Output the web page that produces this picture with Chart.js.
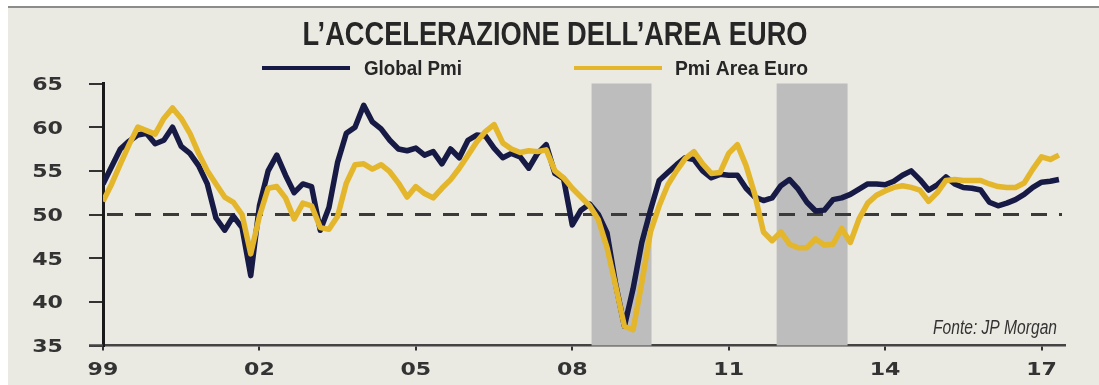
<!DOCTYPE html>
<html lang="it">

<head>
    <meta charset="UTF-8">
    <title>L'accelerazione dell'area euro</title>
    <script src="https://cdn.jsdelivr.net/npm/chart.js"></script>
    <style>
        body { margin: 0; background: #fff; }
    </style>
</head>

<body>
    <div style="width: 1099px; height: 385px;">
        <canvas id="myChart" width="1099" height="385"></canvas>
    </div>

    <script>
        // dati: un punto ogni 2 mesi, da gen 1999
        const firstYear = 1999;
        const monthsPerPoint = 2;

        const globalPmi = [
            53.5, 55.5, 57.5, 58.4, 59.1, 59.3, 58.1, 58.5, 60.0, 57.8,
            57.0, 55.6, 53.5, 49.6, 48.2, 49.8, 48.5, 43.0, 51.0, 55.0,
            56.8, 54.5, 52.5, 53.5, 53.2, 48.2, 50.8, 56.0, 59.3, 60.0,
            62.5, 60.6, 59.8, 58.5, 57.5, 57.3, 57.6, 56.8, 57.2, 55.8,
            57.5, 56.5, 58.5, 59.1, 59.0, 57.6, 56.5, 57.0, 56.6, 55.3,
            57.0, 58.0, 54.7, 54.1, 48.8, 50.5, 51.2, 50.0, 47.9, 42.0,
            37.2, 41.5, 46.8, 50.5, 53.9, 54.8, 55.7, 56.5, 56.3, 55.0,
            54.2, 54.6, 54.5, 54.5, 53.0, 52.0, 51.6, 51.9, 53.3, 54.0,
            52.9, 51.4, 50.4, 50.5, 51.7, 51.9, 52.3, 52.9, 53.5, 53.5,
            53.4, 53.8, 54.5, 55.0, 54.0, 52.8, 53.4, 54.3, 53.5, 53.1,
            53.0, 52.8, 51.4, 51.0, 51.3, 51.7, 52.3, 53.1, 53.7, 53.8,
            54.0
        ];

        const pmiAreaEuro = [
            51.5, 53.5, 55.8, 58.0, 60.0, 59.6, 59.2, 61.0, 62.2, 61.0,
            59.3, 57.0, 55.0, 53.5, 52.0, 51.4, 50.0, 45.5, 49.8, 53.0,
            53.2, 51.9, 49.5, 51.3, 51.0, 48.5, 48.3, 49.8, 53.6, 55.7,
            55.8, 55.2, 55.7, 54.9, 53.6, 52.0, 53.2, 52.4, 51.9, 53.0,
            54.0, 55.3, 56.8, 58.3, 59.5, 60.3, 58.2, 57.5, 57.1, 57.3,
            57.2, 57.4, 55.0, 54.2, 53.0, 52.0, 51.0, 49.4, 46.2, 41.8,
            37.2, 36.8, 42.2, 48.0, 51.0, 53.4, 55.0, 56.4, 57.2, 55.8,
            54.7, 54.8, 57.0, 58.0, 55.6, 52.3, 48.0, 47.0, 48.0, 46.6,
            46.2, 46.2, 47.2, 46.5, 46.6, 48.4, 46.8, 49.5, 51.3, 52.2,
            52.7, 53.1, 53.3, 53.1, 52.8, 51.5, 52.5, 53.9, 54.0, 53.9,
            53.9, 53.9, 53.5, 53.2, 53.1, 53.1, 53.6, 55.2, 56.6, 56.3,
            56.8
        ];

        const xTickYears = [1999, 2002, 2005, 2008, 2011, 2014, 2017];
        const xTickLabels = ['99', '02', '05', '08', '11', '14', '17'];
        const yTickValues = [35, 40, 45, 50, 55, 60, 65];
        const shadedPeriods = [[2008.37, 2009.52], [2011.92, 2013.28]];

        function toPoints(values) {
            return values.map((v, i) => ({ x: firstYear + i * monthsPerPoint / 12, y: v }));
        }

        // testo con schiacciamento orizzontale (font condensato / esteso)
        function drawText(ctx, text, x, y, font, color, align, sx) {
            ctx.save();
            ctx.font = font;
            ctx.fillStyle = color;
            ctx.textAlign = align;
            ctx.textBaseline = 'alphabetic';
            ctx.translate(x, y);
            ctx.scale(sx, 1);
            ctx.fillText(text, 0, 0);
            ctx.restore();
        }
        function fitScale(ctx, text, font, width) {
            ctx.save();
            ctx.font = font;
            const w = ctx.measureText(text).width;
            ctx.restore();
            return width / w;
        }

        const decorPlugin = {
            id: 'decor',
            beforeDraw(chart) {
                const ctx = chart.ctx;
                ctx.save();
                ctx.fillStyle = '#ffffff';
                ctx.fillRect(0, 0, chart.width, chart.height);
                ctx.fillStyle = '#eae9e2';
                ctx.fillRect(8, 8, chart.width - 8, chart.height - 8);
                ctx.strokeStyle = '#8c8c8c';
                ctx.lineWidth = 2;
                ctx.beginPath();
                ctx.moveTo(8, 7);
                ctx.lineTo(chart.width, 7);
                ctx.stroke();
                ctx.restore();
            },
            beforeDatasetsDraw(chart) {
                const ctx = chart.ctx;
                const x = chart.scales.x, y = chart.scales.y;
                const area = chart.chartArea;
                ctx.save();
                ctx.fillStyle = '#bdbdbd';
                shadedPeriods.forEach(p => {
                    const x0 = x.getPixelForValue(p[0]);
                    const x1 = x.getPixelForValue(p[1]);
                    ctx.fillRect(x0, area.top, x1 - x0, area.bottom - area.top);
                });
                // linea tratteggiata a 50
                const y50 = y.getPixelForValue(50);
                ctx.strokeStyle = '#3a3a3a';
                ctx.lineWidth = 3;
                ctx.setLineDash([16, 12]);
                ctx.beginPath();
                ctx.moveTo(area.left + 4, y50);
                ctx.lineTo(area.right - 3, y50);
                ctx.stroke();
                // asse x che sporge a sinistra
                ctx.setLineDash([]);
                ctx.strokeStyle = '#444444';
                ctx.lineWidth = 2.5;
                ctx.beginPath();
                ctx.moveTo(89, area.bottom);
                ctx.lineTo(area.left, area.bottom);
                ctx.stroke();
                ctx.restore();
            },
            afterDraw(chart) {
                const ctx = chart.ctx;
                const x = chart.scales.x, y = chart.scales.y;
                const tickFont = 'bold 17px "DejaVu Sans"';

                yTickValues.forEach(v => {
                    drawText(ctx, String(v), 63, y.getPixelForValue(v) + 6.5, tickFont, '#333333', 'right', 1.3);
                });
                xTickYears.forEach((v, i) => {
                    drawText(ctx, xTickLabels[i], x.getPixelForValue(v), 375, tickFont, '#333333', 'center', 1.3);
                });

                // titolo
                const title = 'L\u2019ACCELERAZIONE DELL\u2019AREA EURO';
                const titleFont = 'bold 34px "Liberation Sans"';
                drawText(ctx, title, 555, 45, titleFont, '#262626', 'center', fitScale(ctx, title, titleFont, 505));

                // legenda
                const legFont = 'bold 20px "Liberation Sans"';
                ctx.save();
                ctx.lineWidth = 4;
                ctx.strokeStyle = '#161a45';
                ctx.beginPath(); ctx.moveTo(262, 68); ctx.lineTo(350, 68); ctx.stroke();
                ctx.strokeStyle = '#e3b62b';
                ctx.beginPath(); ctx.moveTo(574, 68); ctx.lineTo(662, 68); ctx.stroke();
                ctx.restore();
                drawText(ctx, 'Global Pmi', 364, 75, legFont, '#262626', 'left', fitScale(ctx, 'Global Pmi', legFont, 98));
                drawText(ctx, 'Pmi Area Euro', 675, 75, legFont, '#262626', 'left', fitScale(ctx, 'Pmi Area Euro', legFont, 133));

                // fonte
                const srcFont = 'italic 20px "Liberation Sans"';
                drawText(ctx, 'Fonte: JP Morgan', 1057, 334, srcFont, '#333333', 'right', fitScale(ctx, 'Fonte: JP Morgan', srcFont, 124));
            }
        };

        const ctx = document.getElementById('myChart');

        new Chart(ctx, {
            type: 'line',
            data: {
                datasets: [
                    {
                        label: 'Global Pmi',
                        data: toPoints(globalPmi),
                        borderColor: '#161a45',
                        borderWidth: 5.5,
                        pointRadius: 0,
                        tension: 0,
                        borderJoinStyle: 'round',
                        order: 2
                    },
                    {
                        label: 'Pmi Area Euro',
                        data: toPoints(pmiAreaEuro),
                        borderColor: '#e3b62b',
                        borderWidth: 5.5,
                        pointRadius: 0,
                        tension: 0,
                        borderJoinStyle: 'round',
                        order: 1
                    }
                ]
            },
            options: {
                responsive: false,
                animation: false,
                devicePixelRatio: 1,
                layout: { padding: { left: 0, top: 83.5, right: 34, bottom: 0 } },
                plugins: {
                    legend: { display: false },
                    title: { display: false },
                    tooltip: { enabled: false }
                },
                scales: {
                    x: {
                        type: 'linear',
                        min: 1999,
                        max: 2017.45,
                        afterBuildTicks: (s) => { s.ticks = xTickYears.map(v => ({ value: v })); },
                        afterFit: (s) => { s.height = 39.5; },
                        ticks: { display: false },
                        grid: { drawOnChartArea: false, drawTicks: true, tickLength: 5, color: '#333333', lineWidth: 2 },
                        border: { display: true, color: '#444444', width: 2.5 }
                    },
                    y: {
                        min: 35,
                        max: 65,
                        afterBuildTicks: (s) => { s.ticks = yTickValues.map(v => ({ value: v })); },
                        afterFit: (s) => { s.width = 103; },
                        ticks: { display: false },
                        grid: { drawOnChartArea: false, drawTicks: true, tickLength: 14, color: '#333333', lineWidth: 2 },
                        border: { display: true, color: '#1a1a1a', width: 3 }
                    }
                }
            },
            plugins: [decorPlugin]
        });
    </script>
</body>

</html>
